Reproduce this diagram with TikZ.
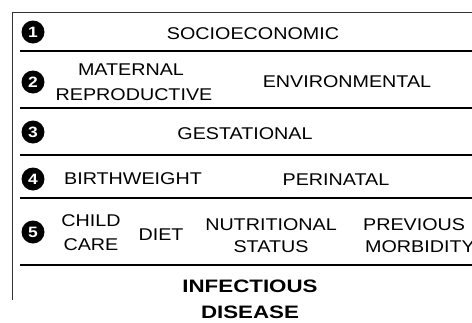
\documentclass[tikz,border=0pt]{standalone}
\usepackage{fontspec}
\setmainfont{Liberation Sans}[FakeStretch=1.16]
\newfontfamily\boldfam{Liberation Sans}[FakeStretch=1.24]
\begin{document}
\begin{tikzpicture}[x=1pt,y=-1pt,
  lbl/.style={inner sep=0pt,font=\fontsize{17}{23}\selectfont,align=center,text=black},
  big/.style={inner sep=0pt,font=\boldfam\bfseries\fontsize{18}{27}\selectfont,align=center},
  badge/.style={circle,fill=black,text=white,inner sep=0pt,minimum size=23pt,font=\fontsize{15}{15}\bfseries\selectfont},
  sep/.style={line width=1.8pt,black},
  thin/.style={line width=0.9pt,black!80}]
\useasboundingbox (0,0) rectangle (472,322);
% frame lines
\draw[thin] (12,12) -- (472,12);
\draw[thin] (12,12) -- (12,300);
\draw[sep] (20,51) -- (472,51);
\draw[sep] (20,108) -- (472,108);
\draw[sep] (20,155) -- (472,155);
\draw[sep] (20,198) -- (472,198);
\draw[sep] (20,265) -- (472,265);
% badges
\node[badge] (b1) at (33,32) {1};
\node[badge] (b2) at (33,82) {2};
\node[badge] (b3) at (33,132) {3};
\node[badge] (b4) at (33,179) {4};
\node[badge] (b5) at (33,232) {5};
% row 1
\node[lbl] (socio) at (253,34) {SOCIOECONOMIC};
% row 2
\node[lbl] (mat1) at (131,70) {MATERNAL};
\node[lbl] (mat2) at (134,95) {REPRODUCTIVE};
\node[lbl] (env) at (347,82) {ENVIRONMENTAL};
% row 3
\node[lbl] (gest) at (245,134) {GESTATIONAL};
% row 4
\node[lbl] (bw) at (133,179) {BIRTHWEIGHT};
\node[lbl] (peri) at (336,180) {PERINATAL};
% row 5
\node[lbl] (cc1) at (91,221) {CHILD};
\node[lbl] (cc2) at (91,245) {CARE};
\node[lbl] (diet) at (161,235) {DIET};
\node[lbl] (nut1) at (271,225) {NUTRITIONAL};
\node[lbl] (nut2) at (271,247) {STATUS};
\node[lbl,anchor=west] (prev1) at (363,225) {PREVIOUS};
\node[lbl,anchor=west] (prev2) at (365,247) {MORBIDITY};
% outcome
\node[big] (inf1) at (250,286) {INFECTIOUS};
\node[big] (inf2) at (250,312) {DISEASE};
\end{tikzpicture}
\end{document}
